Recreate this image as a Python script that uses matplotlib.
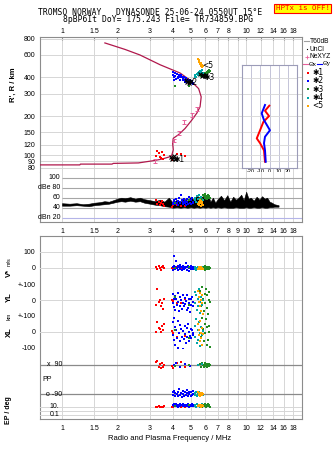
import matplotlib
matplotlib.use("Agg")
import matplotlib.pyplot as plt
from matplotlib.lines import Line2D
from matplotlib.ticker import NullLocator

W, H = 335, 451

# frequency axis (MHz)
freq_lim = (0.757, 20.1)
freq_ticks = [1, 1.5, 2, 3, 4, 5, 6, 7, 8, 9, 10, 12, 14, 16, 18]
freq_labels_top = ["1", "1.5", "2", "3", "4", "5", "6", "7", "8", "", "10", "12", "14", "16", "18"]
freq_labels_mid = ["1", "1.5", "2", "3", "4", "5", "6", "7", "8", "9", "10", "12", "14", "16", "18"]

range_ticks = [80, 90, 100, 120, 150, 200, 300, 400, 600, 800]

# true height profile (plasma frequency vs range)
prof_f = [0.76, 1.25, 1.26, 1.87, 1.90, 2.60, 3.14, 3.47, 3.86, 3.95, 4.02, 3.99, 4.02,
          4.29, 4.66, 5.07, 5.40, 5.62, 5.70, 5.52, 4.97, 4.38, 3.41, 2.65, 2.20, 1.71]
prof_r = [84.0, 84.0, 85.2, 85.2, 86.3, 87.0, 90.6, 93.0, 97.2, 100, 110, 123, 135,
          144, 161, 187, 212, 237, 283, 328, 380, 433, 502, 598, 660, 741]

# NeXYZ points with error bars
nexyz_f = [3.20, 4.05, 4.30, 4.60, 5.05, 5.40]
nexyz_r = [90.5, 130, 148, 180, 205, 228]
nexyz_err = [3.0, 4.5, 5.0, 6.0, 7.0, 8.0]

# echo clusters: f, range, amplitude, V*, YL, XL, PP, EP
red_f = [3.22, 3.30, 3.38, 3.41, 3.45, 3.50, 3.54, 3.58, 3.98, 4.03, 4.22, 4.43, 4.66]
red_r = [98, 108, 104, 97, 95, 106, 93, 100, 92, 95, 102, 102, 99]
red_db = [55, 48, 52, 46, 50, 53, 47, 44, 42, 46, 45, 43, 44]
red_vs = [8, -5, 15, 0, -10, 5, 10, -3, 2, -8, 6, 0, 4]
red_yl = [-32, 71, -12, 4, -40, -16, -57, 10, 0, -8, -20, -15, 5]
red_xl = [-4, 64, 27, 17, -4, 37, 12, 50, 5, -10, -30, 20, -25]
red_pp = [110, 115, 75, 95, 70, 100, 80, 90, 85, 70, 105, 110, 75]
red_ep = [10, 8, 12, 9, 11, 10, 7, 13, 9, 10, 12, 8, 11]

blue_f = [4.00, 4.02, 4.05, 4.08, 4.10, 4.13, 4.16, 4.20, 4.24, 4.28, 4.32, 4.36, 4.40, 4.44,
          4.48, 4.52, 4.56, 4.60, 4.64, 4.68, 4.72, 4.76, 4.80, 4.84, 4.88, 4.92, 4.96, 5.00,
          5.04, 5.08, 5.12, 5.16]
blue_r = [440, 420, 400, 380, 430, 410, 390, 425, 405, 395, 415, 400, 385, 420, 400, 380,
          395, 405, 385, 370, 395, 380, 370, 385, 375, 365, 380, 370, 360, 375, 365, 355]
blue_db = [50, 48, 53, 56, 47, 52, 58, 50, 46, 54, 60, 49, 52, 65, 55, 47, 51, 57, 49, 53,
           45, 58, 52, 48, 55, 62, 50, 47, 56, 60, 52, 49]
blue_vs = [5, -10, 76, 12, -5, 8, 45, 0, -15, 10, 3, -8, 20, 6, -12, 2, 15, -6, 9, -3, 30,
           -10, 4, 12, -20, 0, 7, -5, 10, 2, -8, 5]
blue_yl = [40, -20, 10, -45, 25, -60, 5, -30, 46, -10, -70, 20, -35, 0, -55, 30, -15, -40,
           15, -25, -5, -65, 35, -50, 10, -20, -76, 5, -30, 20, -10, -40]
blue_xl = [60, -20, 90, -50, 30, -80, 10, -40, 70, -100, -10, 45, -60, 20, -30, -110, 5,
           -45, 35, -15, -70, 25, -35, 50, -55, 0, -25, 15, -40, 10, -20, -5]
blue_pp = [-80, -95, 90, -70, -100, -85, 100, -90, -75, -105, -60, -95, 80, -85, -110, -70,
           -90, -100, -80, 95, -95, -65, -85, -105, -75, -90, 85, -100, -80, -95, -70, -90]
blue_ep = [20, 30, 15, 40, 25, 12, 35, 18, 28, 10, 22, 45, 16, 30, 20, 14, 38, 25, 12, 33,
           19, 27, 15, 42, 22, 11, 30, 18, 25, 36, 14, 20]

green_f = [4.10, 4.90, 5.60, 5.70, 5.78, 5.85, 5.90, 5.95, 6.00, 6.05, 6.10, 6.15, 6.20,
           6.25, 6.30, 6.35]
green_r = [345, 345, 420, 410, 415, 412, 425, 418, 430, 428, 440, 436, 448, 442, 455, 450]
green_db = [50, 55, 60, 62, 58, 65, 63, 60, 67, 64, 58, 62, 66, 60, 63, 59]
green_vs = [0, 8, -5, 3, -8, 5, -3, 10, -10, 2, -6, 4, -2, 7, -4, 1]
green_yl = [20, -30, 60, -40, 80, 10, -70, 40, -20, 70, -50, 30, -90, 0, 50, -10]
green_xl = [10, -40, 70, -30, 90, 20, -60, 50, -10, 80, -80, 30, -50, 0, 40, -95]
green_pp = [85, 90, 95, 80, 100, 88, 75, 92, 105, 85, 78, 96, 90, 82, 98, 87]
green_ep = [12, 25, 18, 30, 10, 22, 15, 35, 20, 8, 28, 14, 40, 16, 24, 11]

teal_f = [5.25, 5.30, 5.35, 5.40, 5.45, 5.50, 5.55, 5.60, 5.65, 5.70, 5.75, 5.80]
teal_r = [405, 415, 400, 425, 435, 420, 445, 430, 450, 440, 455, 435]
teal_db = [55, 60, 52, 63, 58, 50, 65, 57, 54, 61, 48, 56]
teal_vs = [-5, 3, -10, 0, 8, -3, 5, -8, 2, -4, 6, -6]
teal_yl = [50, -20, 30, -60, 10, -40, 70, -10, -80, 20, -30, 0]
teal_xl = [40, -30, 80, -70, 10, -50, 60, -10, -90, 30, -20, 5]
teal_pp = [-85, -95, -80, -100, -90, 88, -75, -105, -90, -85, 95, -95]
teal_ep = [15, 25, 10, 35, 20, 12, 30, 18, 8, 22, 40, 14]

orange_f = [5.50, 5.55, 5.58, 5.62, 5.65, 5.68, 5.72, 5.75, 5.78, 5.82]
orange_r = [560, 545, 530, 520, 505, 515, 495, 500, 485, 490]
orange_db = [48, 52, 45, 55, 50, 44, 53, 47, 51, 46]
orange_vs = [-5, 0, 5, -8, 3, -2, 8, -4, 1, -6]
orange_yl = [60, 20, -10, -40, 45, 0, -70, 30, -20, -90]
orange_xl = [50, 10, -20, -60, 70, -5, -40, 25, -80, -15]
orange_pp = [-80, -95, -90, -100, -85, -92, -88, -98, -82, -90]
orange_ep = [15, 20, 12, 25, 18, 22, 10, 16, 28, 14]

# cluster centres (black)
blk_f = [3.92, 3.98, 4.05, 4.12, 4.70, 4.80, 4.90, 5.00, 5.65, 5.75, 5.85, 5.95, 6.05]
blk_r = [96, 93, 98, 94, 385, 372, 360, 378, 425, 412, 420, 408, 418]
blk_lab = ["✱1", "✱2", "✱3", "<5"]
blk_lab_f = [4.02, 4.72, 5.90, 5.75]
blk_lab_r = [93, 368, 398, 495]

# tilt profile
tilt_x_r = [242, 221, 201, 181, 156, 135, 124, 109, 89]
tilt_x = [-0.2, -4.9, -0.5, -6.7, -10.3, -13.9, -10.3, -6.0, -4.9]
tilt_y_r = [245, 211, 187, 156, 139, 124, 109, 89]
tilt_y = [-4.9, -8.5, -6.0, 0.5, -4.9, -6.0, -4.9, -4.1]

# received power (dB): noise envelope
pow_f = [1.0, 1.1, 1.2, 1.3, 1.4, 1.5, 1.6, 1.7, 1.8, 1.9,
         2.0, 2.1, 2.2, 2.35, 2.5, 2.65, 2.8, 3.0, 3.2, 3.4,
         3.6, 3.8, 4.0, 4.2, 4.4, 4.6, 4.8, 5.0, 5.2, 5.4,
         5.6, 5.8, 6.0, 6.2, 6.4, 6.6, 6.8, 7.0, 7.3, 7.6,
         7.9, 8.2, 8.5, 8.8, 9.1, 9.4, 9.7, 10.0, 10.3, 10.6,
         11.0, 11.4, 11.8, 12.2, 12.6, 13.0, 13.4, 13.8, 14.2, 14.6,
         15.0]
pow_hi = [49, 48, 49, 47, 48, 50, 51, 53, 52, 55,
          58, 60, 59, 61, 58, 60, 57, 55, 53, 56,
          52, 60, 50, 56, 52, 58, 54, 62, 55, 65,
          58, 63, 56, 66, 52, 60, 50, 57, 64, 55,
          65, 52, 62, 56, 60, 66, 55, 72, 58, 60,
          54, 62, 56, 63, 58, 60, 52, 50, 47, 46,
          45]
pow_lo = [44, 44, 45, 44, 43, 45, 46, 47, 48, 50,
          52, 53, 52, 54, 52, 53, 50, 48, 46, 45,
          43, 42, 40, 41, 40, 41, 40, 41, 40, 41,
          40, 41, 40, 41, 40, 41, 40, 41, 40, 41,
          40, 40, 40, 41, 40, 40, 40, 41, 40, 40,
          41, 40, 40, 41, 40, 40, 41, 41, 42, 42,
          42]

RED, BLUE, GREEN, TEAL, ORANGE = "#ff0000", "#0000ff", "#228b22", "#00a6a6", "#ffa500"
PROF = "#b0184c"
PINK = "#e8609a"
GRID = "#d6d6d6"
FRAME = "#8c8c8c"

clusters = [
    (RED, red_f, red_r, red_db, red_vs, red_yl, red_xl, red_pp, red_ep),
    (BLUE, blue_f, blue_r, blue_db, blue_vs, blue_yl, blue_xl, blue_pp, blue_ep),
    (GREEN, green_f, green_r, green_db, green_vs, green_yl, green_xl, green_pp, green_ep),
    (TEAL, teal_f, teal_r, teal_db, teal_vs, teal_yl, teal_xl, teal_pp, teal_ep),
    (ORANGE, orange_f, orange_r, orange_db, orange_vs, orange_yl, orange_xl, orange_pp, orange_ep),
]

plt.rcParams["font.family"] = ["Liberation Sans", "DejaVu Sans"]
plt.rcParams["font.size"] = 5

fig = plt.figure(figsize=(W / 100, H / 100), dpi=100)


def pax(x0, y0, x1, y1, **kw):
    return fig.add_axes([x0 / W, 1 - y1 / H, (x1 - x0) / W, (y1 - y0) / H], **kw)


def fx(x):
    return x / W


def fy(y):
    return 1 - y / H


def freq_axis(ax):
    ax.set_xscale("log")
    ax.set_xlim(*freq_lim)
    ax.xaxis.set_minor_locator(NullLocator())
    ax.set_xticks(freq_ticks)
    for s in ax.spines.values():
        s.set_color(FRAME)
        s.set_linewidth(0.8)


def dots(ax, x, y, c, ms=2.1):
    ax.plot(x, y, ls="none", marker="s", ms=ms, mew=0, color=c, zorder=4)


# ---- main range panel ----
ax = pax(39.7, 37, 302, 172)
freq_axis(ax)
ax.set_yscale("log")
ax.set_ylim(74, 824)
ax.yaxis.set_minor_locator(NullLocator())
ax.set_yticks(range_ticks)
ax.set_yticklabels([str(t) for t in range_ticks])
ax.set_xticklabels(freq_labels_top)
ax.xaxis.tick_top()
ax.tick_params(axis="x", length=2, direction="in", pad=1.5, color=FRAME, labelsize=5)
ax.tick_params(axis="y", length=0, pad=3, labelsize=5)
ax.grid(True, color=GRID, lw=0.7)
ax.spines["bottom"].set_visible(False)
ax.plot(prof_f, prof_r, color=PROF, lw=0.9, zorder=3)
ax.errorbar(nexyz_f, nexyz_r, yerr=nexyz_err, fmt="none", ecolor=PINK, elinewidth=0.7,
            capsize=1.2, capthick=0.7, zorder=3)
for c, f, r, *_ in clusters:
    dots(ax, f, r, c)
ax.plot(blk_f, blk_r, ls="none", marker="x", ms=2.2, mew=0.8, color="k", zorder=5)
for s, f, r in zip(blk_lab, blk_lab_f, blk_lab_r):
    ax.text(f, r, s, fontsize=5.5, color="k", ha="left", va="center",
            family=["DejaVu Sans"], zorder=6)

# ---- tilt inset ----
axt = pax(242, 65, 297, 168)
axt.set_facecolor("white")
axt.set_xlim(-30, 30)
axt.set_yscale("log")
axt.set_ylim(79.6, 500)
axt.yaxis.set_minor_locator(NullLocator())
axt.set_yticks(range_ticks[:-2])
axt.set_yticklabels([])
axt.set_xticks([-20, -10, 0, 10, 20])
axt.set_xticklabels(["-20", "-10", "0", "10", "20"])
axt.tick_params(length=0, pad=1, labelsize=4)
axt.grid(True, axis="x", color="#c4c4d8", lw=0.7)
axt.grid(True, axis="y", color=GRID, lw=0.6)
for s in axt.spines.values():
    s.set_color("#9c9cb8")
    s.set_linewidth(0.8)
axt.set_xlabel("Tilt / deg", fontsize=4, labelpad=0)
axt.plot(tilt_x, tilt_x_r, color=RED, lw=1.4)
axt.plot(tilt_y, tilt_y_r, color=BLUE, lw=1.4)

# ---- power panel ----
axp = pax(39.7, 172, 302, 222)
freq_axis(axp)
axp.set_ylim(11.4, 111.4)
axp.set_yticks([])
axp.set_xticklabels(freq_labels_mid)
axp.tick_params(axis="x", length=0, pad=4, labelsize=5)
axp.spines["top"].set_visible(False)
for t in freq_ticks:
    axp.axvline(t, color=GRID, lw=0.7, zorder=0)
axp.hlines([100, 80, 60, 40], 1.0, freq_lim[1], color="#a6a6a6", lw=0.8, zorder=1)
axp.hlines([20], 1.0, freq_lim[1], color="#b4b4e8", lw=0.8, zorder=1)
for v, s in zip([100, 80, 60, 40, 20], ["100", "dBe 80", "60", "40", "dBn 20"]):
    axp.text(0.98, v, s, ha="right", va="center", fontsize=5)
axp.fill_between(pow_f, pow_lo, pow_hi, color="k", lw=0.4, zorder=2)
for c, f, r, db, *_ in clusters:
    dots(axp, f, db, c)

# ---- lower panel frame ----
axl = pax(39.7, 236, 302, 419)
freq_axis(axl)
axl.set_ylim(0, 1)
axl.set_yticks([])
axl.set_xticklabels(freq_labels_top)
axl.tick_params(axis="x", length=0, pad=4, labelsize=5)
axl.grid(True, axis="x", color=GRID, lw=0.7)


def strip(y0, y1, lim, log=False):
    a = pax(39.7, y0, 302, y1)
    a.set_xscale("log")
    a.set_xlim(*freq_lim)
    if log:
        a.set_yscale("log")
    a.set_ylim(*lim)
    a.patch.set_visible(False)
    a.set_xticks([])
    a.xaxis.set_minor_locator(NullLocator())
    a.yaxis.set_minor_locator(NullLocator())
    for s in a.spines.values():
        s.set_visible(False)
    a.tick_params(axis="y", length=0, pad=3, labelsize=5)
    return a


axv = strip(236, 284.3, (-100, 196))
axv.set_yticks([100, 0, -100])
axv.set_yticklabels(["100", "0", "+-100"])
axyl = strip(284.3, 316, (-100, 100))
axyl.set_yticks([0, -100])
axyl.set_yticklabels(["0", "+-100"])
axxl = strip(316, 347.7, (-100, 100))
axxl.set_yticks([0, -100])
axxl.set_yticklabels(["0", "-100"])
axpp = strip(347.7, 400, (-127, 197))
axpp.set_yticks([])
axep = strip(400, 419, (0.0108, 411), log=True)
axep.set_yticks([])

for a in (axv, axyl, axxl):
    a.grid(True, axis="y", color=GRID, lw=0.7)
axpp.axhline(90, color="#8a8a8a", lw=0.9)
axpp.axhline(-90, color="#8a8a8a", lw=0.9)
axpp.text(0.085, 90, "x  90", transform=axpp.get_yaxis_transform(), ha="right", va="center", fontsize=5)
axpp.text(0.085, -90, "o -90", transform=axpp.get_yaxis_transform(), ha="right", va="center", fontsize=5)
axpp.text(0.01, 0, "PP", transform=axpp.get_yaxis_transform(), ha="left", va="center", fontsize=5)
for v in (10, 1, 0.1):
    axep.axhline(v, color=GRID, lw=0.7)
axep.text(0.075, 10, "10.", transform=axep.get_yaxis_transform(), ha="right", va="center", fontsize=5)
axep.text(0.075, 0.1, "0.1", transform=axep.get_yaxis_transform(), ha="right", va="center", fontsize=5)

for c, f, r, db, vs, yl, xl, pp, ep in clusters:
    dots(axv, f, vs, c)
    dots(axyl, f, yl, c)
    dots(axxl, f, xl, c)
    dots(axpp, f, pp, c)
    dots(axep, f, ep, c)

# ---- axis titles ----
fig.text(fx(13), fy(85), "R', R / km", rotation=90, ha="center", va="center", fontsize=5.5, weight="bold")
fig.text(fx(9), fy(262), "m/s", rotation=90, ha="center", va="center", fontsize=4)
fig.text(fx(9), fy(273), "V*", rotation=90, ha="center", va="center", fontsize=5.5, weight="bold")
fig.text(fx(9), fy(297), "YL", rotation=90, ha="center", va="center", fontsize=5.5, weight="bold")
fig.text(fx(9), fy(316), "km", rotation=90, ha="center", va="center", fontsize=4)
fig.text(fx(9), fy(332), "XL", rotation=90, ha="center", va="center", fontsize=5.5, weight="bold")
fig.text(fx(9), fy(410), "EP / deg", rotation=90, ha="center", va="center", fontsize=5, weight="bold")
fig.text(fx(170), fy(439), "Radio and Plasma Frequency / MHz", ha="center", va="center", fontsize=5.5)

# ---- header ----
mono = ["DejaVu Sans Mono"]
fig.text(fx(150), fy(12.3), "TROMSO NORWAY   DYNASONDE 25-06-24 0550UT 15°E",
         ha="center", va="center", fontsize=5.8, family=mono)
fig.text(fx(158), fy(20), "8pBP6It DoY= 175.243 File= TR734859.BPG",
         ha="center", va="center", fontsize=5.8, family=mono)
fig.text(fx(302.5), fy(8.5), "HPTx is OFF!", ha="center", va="center", fontsize=5.4, family=mono,
         color="red", bbox=dict(boxstyle="square,pad=0.2", fc="#ffff00", ec="red", lw=0.8))

# ---- legend ----
def leg_line(x0, x1, y, c, lw=0.8):
    fig.add_artist(Line2D([fx(x0), fx(x1)], [fy(y), fy(y)], color=c, lw=lw, transform=fig.transFigure))


def leg_mark(x, y, c, m, ms):
    fig.add_artist(Line2D([fx(x)], [fy(y)], ls="none", marker=m, ms=ms, mew=0.6 if m == "+" else 0,
                          color=c, transform=fig.transFigure))


leg_line(304, 309, 41.3, "#a0a0a0")
fig.text(fx(309.5), fy(41.3), "T60dB", ha="left", va="center", fontsize=4.8)
leg_mark(306.5, 49.3, "k", "s", 0.8)
fig.text(fx(309.5), fy(49.3), "UnCl", ha="left", va="center", fontsize=4.8)
leg_mark(306.5, 57, PINK, "+", 3)
fig.text(fx(309.5), fy(57), "NeXYZ", ha="left", va="center", fontsize=4.8)
leg_line(303, 308, 64, PINK)
fig.text(fx(308.5), fy(64), "Θx", ha="left", va="center", fontsize=4.5)
leg_line(317, 322, 64, BLUE)
fig.text(fx(322.5), fy(64), "Θy", ha="left", va="center", fontsize=4.5)
for y, c, s in zip([72.7, 80.7, 89.3, 97.7, 105.7], [RED, BLUE, GREEN, TEAL, ORANGE],
                   ["✱1", "✱2", "✱3", "✱4", "<5"]):
    leg_mark(308, y, c, "s", 2.0)
    fig.text(fx(312.5), fy(y), s, ha="left", va="center", fontsize=5.5, family=["DejaVu Sans"])

fig.savefig("out.png", dpi=100)
